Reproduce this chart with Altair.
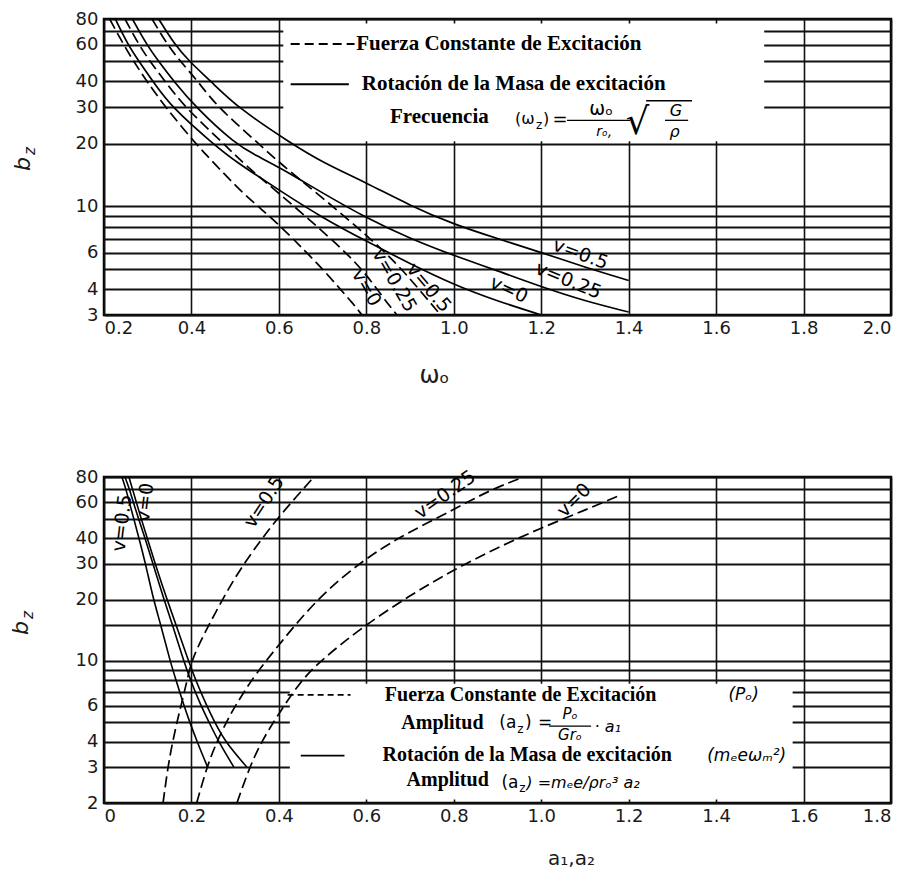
import altair as alt
import pandas as pd

# ---------------------------------------------------------------------------
# Upper panel: frequency factor w0 at resonance vs. mass ratio bz
# ---------------------------------------------------------------------------
TOP_X_TICKS = [0.2, 0.4, 0.6, 0.8, 1.0, 1.2, 1.4, 1.6, 1.8, 2.0]
TOP_Y_GRID = [3, 4, 5, 6, 7, 8, 9, 10, 20, 30, 40, 50, 60, 70, 80]
TOP_Y_LABELS = [3, 4, 6, 10, 20, 30, 40, 60, 80]

# constant force excitation (dashed)
TOP_F_NU0_W = [0.213, 0.245, 0.268, 0.298, 0.341, 0.41, 0.46, 0.51, 0.56, 0.61, 0.66, 0.70, 0.74, 0.77, 0.79]
TOP_F_NU0_B = [80, 60, 50, 40, 30, 20, 15.5, 12, 9.7, 7.8, 6.1, 5.0, 4.0, 3.4, 3.0]
TOP_F_NU25_W = [0.248, 0.28, 0.305, 0.34, 0.385, 0.475, 0.52, 0.60, 0.70, 0.76, 0.80, 0.84, 0.87]
TOP_F_NU25_B = [80, 60, 50, 40, 30, 20, 16, 11.6, 7.6, 5.8, 4.7, 3.6, 3.0]
TOP_F_NU50_W = [0.31, 0.345, 0.375, 0.415, 0.46, 0.555, 0.60, 0.70, 0.80, 0.87, 0.92, 0.97]
TOP_F_NU50_B = [80, 60, 50, 40, 30, 20, 16.3, 11, 7.3, 5.3, 4.0, 3.0]
# rotating mass excitation (solid)
TOP_R_NU0_W = [0.226, 0.255, 0.28, 0.312, 0.355, 0.45, 0.50, 0.60, 0.70, 0.80, 0.90, 1.0, 1.1, 1.2]
TOP_R_NU0_B = [80, 60, 50, 40, 30, 20, 16.5, 12, 8.8, 6.8, 5.3, 4.2, 3.5, 3.0]
TOP_R_NU25_W = [0.265, 0.298, 0.325, 0.36, 0.41, 0.50, 0.55, 0.60, 0.70, 0.80, 0.90, 1.0, 1.1, 1.2, 1.3, 1.4]
TOP_R_NU25_B = [80, 60, 50, 40, 30, 20, 17.5, 15.5, 11.6, 8.8, 7.0, 5.8, 4.9, 4.1, 3.5, 3.1]
TOP_R_NU50_W = [0.325, 0.362, 0.395, 0.445, 0.505, 0.63, 0.70, 0.80, 0.90, 1.0, 1.1, 1.2, 1.3, 1.4]
TOP_R_NU50_B = [80, 60, 50, 40, 30, 20, 16.3, 13, 10.1, 8.2, 7.0, 6.0, 5.1, 4.4]

TOP_CURVE_TEXT = ["v=0", "v=0.25", "v=0.5", "v=0", "v=0.25", "v=0.5"]
TOP_CURVE_TEXT_W = [0.80, 0.864, 0.943, 1.126, 1.262, 1.29]
TOP_CURVE_TEXT_B = [4.06, 4.4, 4.06, 3.98, 4.4, 5.9]
TOP_CURVE_TEXT_ANGLE = [60, 60, 50, 25, 22, 20]

# ---------------------------------------------------------------------------
# Lower panel: amplitude factors a1, a2 vs. mass ratio bz
# ---------------------------------------------------------------------------
BOT_X_TICKS = [0, 0.2, 0.4, 0.6, 0.8, 1.0, 1.2, 1.4, 1.6, 1.8]
BOT_Y_GRID = [2, 3, 4, 5, 6, 7, 8, 9, 10, 15, 20, 30, 40, 50, 60, 70, 80]
BOT_Y_LABELS = [2, 3, 4, 6, 10, 20, 30, 40, 60, 80]

# constant force excitation, a1 (dashed)
BOT_F_NU0_A = [0.304, 0.333, 0.36, 0.395, 0.45, 0.50, 0.59, 0.70, 0.80, 0.90, 1.0, 1.1, 1.18]
BOT_F_NU0_B = [2, 3, 4, 5.3, 8, 10.2, 14.6, 21, 28, 36, 45, 55, 65]
BOT_F_NU25_A = [0.212, 0.235, 0.258, 0.28, 0.30, 0.32, 0.345, 0.40, 0.49, 0.59, 0.68, 0.76, 0.83, 0.89, 0.96]
BOT_F_NU25_B = [2, 3, 4, 5, 6, 7, 8.5, 12, 20.5, 31, 41, 50, 60, 70, 80]
BOT_F_NU50_A = [0.135, 0.146, 0.157, 0.167, 0.176, 0.19, 0.20, 0.225, 0.25, 0.30, 0.354, 0.40, 0.44, 0.48]
BOT_F_NU50_B = [2, 3, 4, 5, 6, 8, 10, 13, 16.5, 26, 38, 51, 64, 80]
# rotating mass excitation, a2 (solid)
BOT_R_NU0_A = [0.057, 0.065, 0.074, 0.085, 0.099, 0.117, 0.144, 0.165, 0.193, 0.21, 0.235, 0.253, 0.277, 0.327]
BOT_R_NU0_B = [80, 70, 60, 50, 40, 30, 20, 15, 10, 8, 6, 5, 4, 3]
BOT_R_NU25_A = [0.048, 0.058, 0.067, 0.079, 0.094, 0.112, 0.137, 0.157, 0.182, 0.198, 0.222, 0.24, 0.262, 0.297]
BOT_R_NU25_B = [80, 70, 60, 50, 40, 30, 20, 15, 10, 8, 6, 5, 4, 3]
BOT_R_NU50_A = [0.041, 0.05, 0.058, 0.068, 0.08, 0.095, 0.113, 0.13, 0.151, 0.165, 0.183, 0.196, 0.213, 0.237]
BOT_R_NU50_B = [80, 70, 60, 50, 40, 30, 20, 15, 10, 8, 6, 5, 4, 3]

BOT_CURVE_TEXT = ["v=0.5", "v=0", "v=0.5", "v=0.25", "v=0"]
BOT_CURVE_TEXT_A = [0.041, 0.094, 0.366, 0.78, 1.075]
BOT_CURVE_TEXT_B = [47.5, 60, 60.4, 65.5, 61.5]
BOT_CURVE_TEXT_ANGLE = [277, 277, 303, 325, 315]

SANS = "DejaVu Sans"
SERIF = "Liberation Serif"


def curves(series):
    rows = []
    for name, style, xs, ys in series:
        for a, b in zip(xs, ys):
            rows.append({"serie": name, "estilo": style, "x": a, "y": b})
    return pd.DataFrame(rows)


def enc(xs, ys, xa, ya):
    return dict(x=alt.X("x:Q", scale=xs, axis=xa, title=None),
                y=alt.Y("y:Q", scale=ys, axis=ya, title=None))


def text_layer(rows, xs, ys, xa, ya, **mark):
    df = pd.DataFrame(rows, columns=["t", "x", "y"])
    return alt.Chart(df).mark_text(color="black", **mark).encode(
        text="t:N", **enc(xs, ys, xa, ya))


def rule_layer(rows, xs, ys, xa, ya, **mark):
    df = pd.DataFrame(rows, columns=["x", "x2", "y"])
    return alt.Chart(df).mark_rule(color="black", **mark).encode(
        x2="x2:Q", **enc(xs, ys, xa, ya))


def ylabel_expr(labels):
    return "indexof([" + ",".join(str(v) for v in labels) + "], datum.value) >= 0 ? datum.label : ''"


AX_COMMON = dict(labelFont=SANS, labelFontSize=18, labelColor="#1a1a1a", ticks=False,
                 domain=False, grid=True, gridColor="#111111", gridOpacity=1)

# ---------------------------- upper panel -----------------------------------
tx = alt.Scale(domain=[0.2, 2.0], nice=False, zero=False)
ty = alt.Scale(type="log", domain=[3, 80], nice=False)
txa = alt.Axis(values=TOP_X_TICKS, format=".1f", labelPadding=4, gridWidth=1.6,
               title="ωₒ", titleFont=SANS, titleFontSize=24, titleFontWeight="normal",
               titleColor="#1a1a1a", titleX=330, titleY=60, titleAlign="center",
               titleBaseline="middle", **AX_COMMON)
tya = alt.Axis(values=TOP_Y_GRID, labelExpr=ylabel_expr(TOP_Y_LABELS), labelPadding=6,
               gridWidth=2.2, title=None, **AX_COMMON)

top_df = curves([
    ("f0", "d", TOP_F_NU0_W, TOP_F_NU0_B), ("f25", "d", TOP_F_NU25_W, TOP_F_NU25_B),
    ("f50", "d", TOP_F_NU50_W, TOP_F_NU50_B), ("r0", "s", TOP_R_NU0_W, TOP_R_NU0_B),
    ("r25", "s", TOP_R_NU25_W, TOP_R_NU25_B), ("r50", "s", TOP_R_NU50_W, TOP_R_NU50_B)])

top_box = alt.Chart(pd.DataFrame({"x": [0.61], "x2": [1.71], "y": [20.6], "y2": [76]})).mark_rect(
    color="white").encode(x2="x2:Q", y2="y2:Q", **enc(tx, ty, txa, tya))
top_dash = alt.Chart(top_df[top_df.estilo == "d"]).mark_line(
    color="black", strokeWidth=1.7, strokeDash=[11, 5], interpolate="basis", clip=True).encode(
    detail="serie:N", **enc(tx, ty, txa, tya))
top_solid = alt.Chart(top_df[top_df.estilo == "s"]).mark_line(
    color="black", strokeWidth=1.7, interpolate="basis", clip=True).encode(
    detail="serie:N", **enc(tx, ty, txa, tya))
top_lbl = alt.Chart(pd.DataFrame({"t": TOP_CURVE_TEXT, "x": TOP_CURVE_TEXT_W, "y": TOP_CURVE_TEXT_B,
                                  "a": TOP_CURVE_TEXT_ANGLE})).mark_text(
    font=SANS, fontSize=19, color="black").encode(
    text="t:N", angle=alt.Angle("a:Q", scale=None), **enc(tx, ty, txa, tya))

top_layers = [
    top_box, top_dash, top_solid, top_lbl,
    rule_layer([(0.627, 0.773, 60.6)], tx, ty, txa, tya, strokeWidth=2, strokeDash=[9, 5]),
    rule_layer([(0.627, 0.76, 38.8)], tx, ty, txa, tya, strokeWidth=2),
    rule_layer([(1.259, 1.403, 26.0), (1.483, 1.536, 26.0), (1.44, 1.545, 32.3)], tx, ty, txa, tya,
               strokeWidth=1.3),
    text_layer([("Fuerza Constante de Excitación", 1.103, 60.6),
                ("Rotación de la Masa de excitación", 1.137, 38.8),
                ("Frecuencia", 0.967, 26.9)], tx, ty, txa, tya,
               font=SERIF, fontSize=21, fontWeight="bold"),
    text_layer([("(ω", 1.140, 26.4), (")", 1.204, 26.4)], tx, ty, txa, tya,
               font=SANS, fontSize=16, align="left"),
    text_layer([("z", 1.188, 24.6)], tx, ty, txa, tya, font=SANS, fontSize=12, align="left"),
    text_layer([("=", 1.243, 26.0)], tx, ty, txa, tya, font=SANS, fontSize=18),
    text_layer([("ωₒ", 1.337, 29.6)], tx, ty, txa, tya, font=SANS, fontSize=19),
    text_layer([("rₒ,", 1.344, 22.8)], tx, ty, txa, tya, font=SANS, fontSize=14, fontStyle="italic"),
    text_layer([("√", 1.42, 25.2)], tx, ty, txa, tya, font=SANS, fontSize=37),
    text_layer([("G", 1.508, 28.8), ("ρ", 1.505, 22.8)], tx, ty, txa, tya,
               font=SANS, fontSize=16, fontStyle="italic"),
    alt.Chart(pd.DataFrame({"t": ["b"]})).mark_text(
        font=SANS, fontSize=22, fontStyle="italic", angle=270, color="#1a1a1a").encode(
        text="t:N", x=alt.value(-81), y=alt.value(145)),
    alt.Chart(pd.DataFrame({"t": ["z"]})).mark_text(
        font=SANS, fontSize=15, fontStyle="italic", angle=270, color="#1a1a1a").encode(
        text="t:N", x=alt.value(-74), y=alt.value(132)),
]
top = alt.layer(*top_layers).properties(width=787, height=296)

# ---------------------------- lower panel -----------------------------------
bx = alt.Scale(domain=[0, 1.8], nice=False, zero=False)
by = alt.Scale(type="log", domain=[2, 80], nice=False)
bxa = alt.Axis(values=BOT_X_TICKS, labelExpr="datum.value == 0 ? '0' : format(datum.value, '.1f')",
               labelPadding=4, gridWidth=1.6,
               title="a₁,a₂", titleFont=SANS, titleFontSize=20, titleFontWeight="normal",
               titleColor="#1a1a1a", titleX=467, titleY=55, titleAlign="center",
               titleBaseline="middle", **AX_COMMON)
bya = alt.Axis(values=BOT_Y_GRID, labelExpr=ylabel_expr(BOT_Y_LABELS), labelPadding=6,
               gridWidth=2.2, title=None, **AX_COMMON)

bot_df = curves([
    ("f0", "d", BOT_F_NU0_A, BOT_F_NU0_B), ("f25", "d", BOT_F_NU25_A, BOT_F_NU25_B),
    ("f50", "d", BOT_F_NU50_A, BOT_F_NU50_B), ("r0", "s", BOT_R_NU0_A, BOT_R_NU0_B),
    ("r25", "s", BOT_R_NU25_A, BOT_R_NU25_B), ("r50", "s", BOT_R_NU50_A, BOT_R_NU50_B)])

bot_box = alt.Chart(pd.DataFrame({"x": [0.425], "x2": [1.575], "y": [2.08], "y2": [7.7]})).mark_rect(
    color="white").encode(x2="x2:Q", y2="y2:Q", **enc(bx, by, bxa, bya))
bot_dash = alt.Chart(bot_df[bot_df.estilo == "d"]).mark_line(
    color="black", strokeWidth=1.7, strokeDash=[11, 5], interpolate="basis", clip=True).encode(
    detail="serie:N", **enc(bx, by, bxa, bya))
bot_solid = alt.Chart(bot_df[bot_df.estilo == "s"]).mark_line(
    color="black", strokeWidth=1.6, interpolate="basis", clip=True).encode(
    detail="serie:N", **enc(bx, by, bxa, bya))
bot_lbl = alt.Chart(pd.DataFrame({"t": BOT_CURVE_TEXT, "x": BOT_CURVE_TEXT_A, "y": BOT_CURVE_TEXT_B,
                                  "a": BOT_CURVE_TEXT_ANGLE})).mark_text(
    font=SANS, fontSize=19, color="black").encode(
    text="t:N", angle=alt.Angle("a:Q", scale=None), **enc(bx, by, bxa, bya))

bot_layers = [
    bot_box, bot_dash, bot_solid, bot_lbl,
    rule_layer([(0.42, 0.564, 6.8)], bx, by, bxa, bya, strokeWidth=1.6, strokeDash=[6, 4]),
    rule_layer([(0.45, 0.55, 3.42)], bx, by, bxa, bya, strokeWidth=1.8),
    rule_layer([(1.018, 1.114, 4.77)], bx, by, bxa, bya, strokeWidth=1.2),
    text_layer([("Fuerza Constante de Excitación", 0.953, 6.8), ("Amplitud", 0.774, 4.94),
                ("Rotación de la Masa de excitación", 0.968, 3.44), ("Amplitud", 0.786, 2.6)],
               bx, by, bxa, bya, font=SERIF, fontSize=20, fontWeight="bold"),
    text_layer([("(Pₒ)", 1.463, 6.8), ("(mₑeωₘ²)", 1.47, 3.4)], bx, by, bxa, bya,
               font=SANS, fontSize=17, fontStyle="italic"),
    text_layer([("(a", 0.904, 4.94), (")", 0.963, 4.94), ("(a", 0.909, 2.52)], bx, by, bxa, bya,
               font=SANS, fontSize=17, align="left"),
    text_layer([("z", 0.945, 4.6), ("z", 0.95, 2.38)], bx, by, bxa, bya,
               font=SANS, fontSize=12, align="left"),
    text_layer([("=", 1.009, 4.94)], bx, by, bxa, bya, font=SANS, fontSize=17),
    text_layer([("Pₒ", 1.066, 5.47), ("Grₒ", 1.066, 4.3)], bx, by, bxa, bya,
               font=SANS, fontSize=15, fontStyle="italic"),
    text_layer([("· a₁", 1.122, 4.75), (") =mₑe/ρrₒ³ a₂", 0.966, 2.52)], bx, by, bxa, bya,
               font=SANS, fontSize=16, fontStyle="italic", align="left"),
    alt.Chart(pd.DataFrame({"t": ["b"]})).mark_text(
        font=SANS, fontSize=22, fontStyle="italic", angle=270, color="#1a1a1a").encode(
        text="t:N", x=alt.value(-83), y=alt.value(151)),
    alt.Chart(pd.DataFrame({"t": ["z"]})).mark_text(
        font=SANS, fontSize=15, fontStyle="italic", angle=270, color="#1a1a1a").encode(
        text="t:N", x=alt.value(-76), y=alt.value(138)),
]
bottom = alt.layer(*bot_layers).properties(width=787, height=326)

chart = alt.vconcat(top, bottom, spacing=77).properties(
    padding={"left": 0, "top": 0, "right": 2, "bottom": 2},
    background="white",
).configure_view(stroke="black", strokeWidth=2.5)

chart.save("out.html", embed_options={"renderer": "svg", "actions": False})
